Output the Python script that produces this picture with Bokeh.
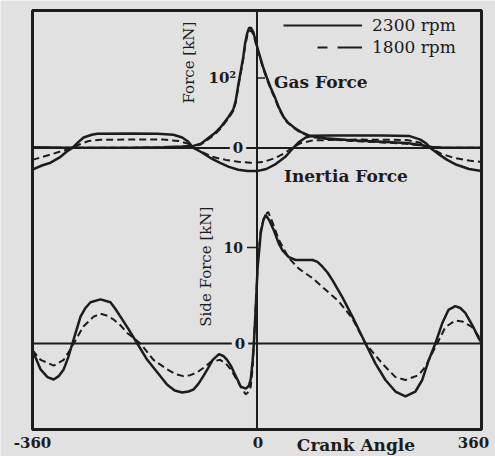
from math import pi
from bokeh.plotting import figure
from bokeh.models import Range1d, Label, Legend, LegendItem, BoxAnnotation
from bokeh.embed import file_html
from bokeh.resources import INLINE

# ---------------- data ----------------
# Gas force, 2300 rpm [kN]
gas_2300_deg = [-360, -300, -250, -200, -150, -120, -102, -90, -79, -68, -59, -46, -38, -34, -30, -26, -22,
                -19, -16, -13, -10, -6, -2, 2, 6, 10, 16, 22, 29, 35, 43, 49, 60, 70, 86, 110, 150, 200,
                240, 265, 280, 300, 360]
gas_2300_kn = [1, 0.5, 0.5, 0.5, 1, 2, 3, 6, 13.5, 21, 29, 44, 55, 68, 90, 110, 130,
               150, 163, 171, 172, 166, 152, 139, 127, 115, 100, 86, 72, 58, 44, 37, 29, 23, 17, 14, 11, 9,
               7, 4, 1.5, 0.5, 0.5]
# Gas force, 1800 rpm [kN]
gas_1800_deg = [-360, -300, -250, -200, -150, -120, -102, -90, -79, -68, -59, -46, -38, -34, -30, -26, -22,
                -19, -16, -13, -10, -6, -2, 2, 6, 10, 16, 22, 29, 35, 43, 49, 60, 70, 86, 110, 150, 200,
                240, 265, 280, 300, 360]
gas_1800_kn = [0.5, 0.5, 0.5, 0.5, 0.8, 1.5, 2.5, 5, 12, 19, 27, 42, 53, 65, 87, 107, 127,
               146, 159, 166, 168, 163, 150, 137, 125, 113, 98, 84, 70, 56, 43, 36, 28, 22, 16, 13, 10, 8,
               6, 3.5, 1, 0.5, 0.5]
# Inertia force, 2300 rpm [kN]
inertia_2300_deg = [-360, -345, -331, -315, -305, -296, -287, -278, -265, -256, -200, -160, -134, -120, -110,
                    -102, -91, -75, -60, -45, -30, -15, 0, 15, 30, 45, 58, 68, 78, 88, 120, 200, 245, 262,
                    272, 278, 290, 305, 320, 340, 360]
inertia_2300_kn = [-31, -25, -21, -12.6, -5, 0, 8, 15, 19, 20.4, 20.8, 20.4, 19, 15, 9,
                   0, -5, -14, -21, -27, -31, -33, -33, -30, -23, -13, 0, 9, 15, 17.5, 18, 18, 17, 12,
                   6, 0, -8, -17, -24, -30, -33]
# Inertia force, 1800 rpm [kN]
inertia_1800_deg = [-360, -345, -330, -315, -296, -285, -270, -250, -200, -150, -125, -110, -100, -85, -70,
                    -50, -30, -10, 10, 30, 45, 56, 70, 90, 160, 240, 260, 278, 295, 315, 340, 360]
inertia_1800_kn = [-17, -13, -9, -5, 0, 5, 10, 11.9, 12, 12, 10, 6, 0, -7, -13,
                   -17, -19.7, -21, -20, -14, -7, 0, 7, 11, 12, 11.5, 8, 0, -8, -14, -18, -20]
# Side force, 2300 rpm [kN]
side_2300_deg = [-360, -347, -336, -326, -318, -310, -303, -296, -289, -283, -275, -267, -251, -235, -227,
                 -219, -206, -192, -176, -160, -144, -132, -120, -110, -102, -94, -86, -78, -71, -61, -54,
                 -48, -42, -37, -31, -26, -18, -13, -10, -7, -5, -2, 1, 6, 10, 14, 20, 27, 35, 41, 51, 62,
                 75, 89, 97, 105, 113, 121, 137, 153, 174, 190, 206, 222, 238, 254, 265, 275, 286, 297, 307,
                 318, 326, 334, 347, 355, 360]
side_2300_kn = [-0.7, -2.7, -3.5, -3.75, -3.4, -2.7, -1.5, 0, 1.5, 2.8, 3.7, 4.3, 4.6, 4.3, 3.6,
                2.8, 1.5, 0, -1.7, -3.0, -4.3, -4.9, -5.1, -5.0, -4.8, -4.2, -3.4, -2.5, -1.7, -1.1, -1.3,
                -1.7, -2.3, -3.0, -3.8, -4.5, -4.7, -4.4, -3.7, -1.8, 0, 3.75, 7.9, 11.5, 12.8, 13.4, 12.8,
                11.8, 10.4, 9.7, 9.0, 8.7, 8.7, 8.7, 8.5, 8.0, 7.4, 6.6, 4.8, 2.8, 0, -2.1, -3.8, -5.0, -5.5,
                -5.0, -3.8, -1.8, 0, 2.1, 3.5, 3.9, 3.7, 3.2, 1.7, 0.6, 0.1]
# Side force, 1800 rpm [kN]
side_1800_deg = [-360, -347, -326, -310, -302, -294, -286, -278, -262, -251, -240, -230, -219, -208, -187,
                 -166, -144, -130, -118, -107, -96, -85, -74, -59, -50, -42, -34, -26, -18, -13, -10, -7,
                 -5, -2, 1, 6, 12, 18, 25, 35, 51, 67, 89, 110, 131, 153, 174, 201, 222, 238, 259, 270, 289,
                 302, 318, 329, 345, 355, 360]
side_1800_kn = [-0.7, -1.7, -2.3, -1.7, -0.9, 0, 0.9, 1.8, 2.8, 3.1, 2.9, 2.5, 1.9, 1.1, 0,
                -1.7, -2.7, -3.2, -3.4, -3.3, -3.0, -2.5, -1.9, -1.7, -2.1, -2.7, -3.6, -4.5, -5.3, -5.0,
                -4.5, -2.5, 0, 4, 8, 11.8, 13.3, 13.7, 12.6, 10.8, 8.9, 7.8, 6.8, 5.6, 4.4, 2.6, 0, -2.1,
                -3.5, -3.8, -3.3, -2.4, 0, 1.7, 2.4, 2.3, 1.7, 0.8, 0.4]

xtick_values = [-360, 0, 360]
xtick_labels = ["-360", "0", "360"]
force_tick_values = [0, 100]
force_tick_labels = ["0", "10\u00b2"]
side_tick_values = [0, 10]
side_tick_labels = ["0", "10"]
series_labels = ["2300 rpm", "1800 rpm"]

# ---------------- layout / styling ----------------
BG = "#e1e1e1"
INK = "#1c1c1c"
SERIF = "DejaVu Serif"
DASH = "7 4"
NAN = float("nan")
# visible box (in side-force units) inside a frame that fills the whole canvas
BOX_TOP, BOX_BOTTOM = 34.69, -8.96

p = figure(width=495, height=456, output_backend="svg", toolbar_location=None,
           x_range=Range1d(-411.3, 382.45), y_range=Range1d(-11.77, 35.73),
           x_axis_location=None, y_axis_location=None,
           min_border=0, min_border_left=0, min_border_right=0, min_border_top=0, min_border_bottom=0)
p.extra_y_ranges = {"force": Range1d(-440.7, 210.7)}
p.grid.visible = False
p.background_fill_color = BG
p.border_fill_color = BG
p.outline_line_alpha = 0

# box, zero lines and crank-angle axis
p.add_layout(BoxAnnotation(left=xtick_values[0], right=xtick_values[-1], bottom=BOX_BOTTOM, top=BOX_TOP,
                           fill_alpha=0, line_color=INK, line_alpha=1, line_width=3))
p.line([xtick_values[0], xtick_values[-1]], [force_tick_values[0]] * 2, y_range_name="force",
       line_color=INK, line_width=2)
p.line([xtick_values[0], xtick_values[-1]], [side_tick_values[0]] * 2, line_color=INK, line_width=2)
p.line([xtick_values[1]] * 2, [BOX_BOTTOM, BOX_TOP], line_color=INK, line_width=2)

# curves
p.line(gas_2300_deg, gas_2300_kn, y_range_name="force", line_color=INK, line_width=2.5)
p.line(gas_1800_deg, gas_1800_kn, y_range_name="force", line_color=INK, line_width=2, line_dash=DASH)
p.line(inertia_2300_deg, inertia_2300_kn, y_range_name="force", line_color=INK, line_width=2.5)
p.line(inertia_1800_deg, inertia_1800_kn, y_range_name="force", line_color=INK, line_width=2, line_dash=DASH)
p.line(side_2300_deg, side_2300_kn, line_color=INK, line_width=2.5)
p.line(side_1800_deg, side_1800_kn, line_color=INK, line_width=2, line_dash=DASH)

# inner tick marks
p.ray(x=[0], y=[force_tick_values[1]], length=8, length_units="screen", angle=0,
      y_range_name="force", line_color=INK, line_width=1.5)
p.ray(x=[0], y=[side_tick_values[1]], length=10, length_units="screen", angle=pi,
      line_color=INK, line_width=1.5)

def lab(**kw):
    base = dict(text_font=SERIF, text_color=INK, text_font_size="15px", text_font_style="bold",
                text_baseline="middle", text_align="center")
    base.update(kw)
    p.add_layout(Label(**base))

# inner y tick labels
lab(x=0, y=force_tick_values[0], y_range_name="force", text=force_tick_labels[0], x_offset=-19,
    background_fill_color=BG, padding=3)
lab(x=0, y=force_tick_values[1], y_range_name="force", text=force_tick_labels[1], x_offset=-21,
    text_align="right")
lab(x=0, y=side_tick_values[0], text=side_tick_labels[0], x_offset=-17,
    background_fill_color=BG, padding=3)
lab(x=0, y=side_tick_values[1], text=side_tick_labels[1], x_offset=-14, text_align="right",
    text_font_size="14px")

# x tick labels and title
for v, t, off in zip(xtick_values, xtick_labels, [0, 1, -8]):
    lab(x=v, y=-9.69, text=t, x_offset=off, text_baseline="top")
lab(x=0, y=-9.58, text="Crank Angle", x_offset=99, text_baseline="top", text_font_size="17px")

# axis titles and annotations
lab(x=0, y=122, y_range_name="force", text="Force [kN]", x_offset=-67.5, angle=pi / 2,
    text_font_style="normal")
lab(x=0, y=8.0, text="Side Force [kN]", x_offset=-50.5, angle=pi / 2, text_font_style="normal")
lab(x=0, y=93.6, y_range_name="force", text="Gas Force", x_offset=17, text_align="left",
    text_font_size="17px")
lab(x=0, y=-39.3, y_range_name="force", text="Inertia Force", x_offset=27, text_align="left",
    text_font_size="17px")

# legend (legend-only renderers, nothing drawn in the plot area)
leg_solid = p.line(x=[NAN], y=[NAN], line_color=INK, line_width=2)
leg_dash = p.line(x=[NAN], y=[NAN], line_color=INK, line_width=2, line_dash="0 34 10 10 25 100")
legend = Legend(items=[LegendItem(label=series_labels[0], renderers=[leg_solid]),
                       LegendItem(label=series_labels[1], renderers=[leg_dash])],
                location=(283, 398), glyph_width=79, glyph_height=22, label_height=22,
                label_standoff=10, spacing=0, padding=0, margin=0,
                border_line_alpha=0, background_fill_alpha=0,
                label_text_font=SERIF, label_text_font_size="17px", label_text_color=INK)
p.add_layout(legend)

open("out.html", "w").write(file_html(p, INLINE))
